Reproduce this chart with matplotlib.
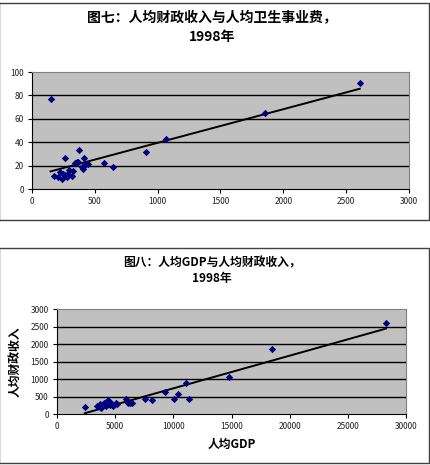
import numpy as np
import matplotlib
matplotlib.use('Agg')
import matplotlib.pyplot as plt
from matplotlib.patches import Rectangle

plt.rcParams['font.family'] = ['Noto Sans CJK SC', 'DejaVu Sans']

# chart 7: per-capita fiscal revenue vs per-capita health spending, 1998
rev7 = [148, 175, 210, 223, 236, 250, 263, 263, 275, 289, 297, 315, 330, 342,
        355, 369, 377, 395, 405, 414, 422, 448, 573, 642, 904, 1063, 1853, 2608]
health7 = [77, 11.4, 10.5, 14.8, 8.3, 12.5, 26.8, 12, 10, 12.5, 16.2, 11.1, 15.5, 22,
           23, 22.8, 33.3, 19, 17.5, 26.8, 20.5, 21, 22.5, 19, 32, 42.5, 65, 91]

# chart 8: per-capita GDP vs per-capita fiscal revenue, 1998
gdp8 = [2380, 3440, 3670, 3810, 4015, 4245, 4390, 4530, 4675, 4820, 5050, 5160,
        5965, 6110, 6310, 6480, 7540, 8200, 9320, 10040, 10410, 11130, 11330,
        14800, 18500, 28280]
rev8 = [190, 230, 285, 160, 305, 230, 400, 257, 305, 230, 324, 285,
        420, 324, 305, 324, 420, 400, 640, 420, 570, 895, 430,
        1070, 1850, 2610]

W, H = 430, 465
fig = plt.figure(figsize=(W / 100, H / 100), dpi=100)


def px_axes(x0, y0, x1, y1):
    return fig.add_axes([x0 / W, (H - y1) / H, (x1 - x0) / W, (y1 - y0) / H])


def box(y0, y1):
    fig.patches.append(Rectangle((-1 / W, (H - y1) / H), 430 / W, (y1 - y0) / H,
                                 transform=fig.transFigure, fill=False,
                                 edgecolor='#404040', lw=1.0))


def excel_style(ax, xt, yt):
    ax.set_facecolor('#c0c0c0')
    ax.set_xlim(xt[0], xt[-1])
    ax.set_ylim(yt[0], yt[-1])
    ax.set_xticks(xt)
    ax.set_yticks(yt)
    for y in yt[1:-1]:
        ax.axhline(y, color='black', lw=1.0, zorder=1)
    for s in ['top', 'right']:
        ax.spines[s].set_color('#808080')
    for s in ['left', 'bottom']:
        ax.spines[s].set_color('black')
    ax.tick_params(direction='out', length=3, width=0.8, labelsize=6,
                   labelcolor='#222222', pad=3)


def trend(ax, x, y):
    k, b = np.polyfit(x, y, 1)
    xs = np.array([min(x), max(x)])
    ax.plot(xs, k * xs + b, color='black', lw=1.4, zorder=2)


# top chart
box(3, 220)
fig.text(212 / W, 1 - 18 / H, '图七：人均财政收入与人均卫生事业费，', ha='center', va='center',
         fontsize=10, fontweight='bold')
fig.text(212 / W, 1 - 37 / H, '1998年', ha='center', va='center',
         fontsize=10, fontweight='bold')
ax1 = px_axes(32, 72, 409, 189)
excel_style(ax1, list(range(0, 3001, 500)), list(range(0, 101, 20)))
ax1.scatter(rev7, health7, marker='D', s=14, color='#000080', zorder=3, lw=0)
trend(ax1, rev7, health7)

# bottom chart
box(248, 463)
fig.text(212 / W, 1 - 263 / H, '图八：人均GDP与人均财政收入，', ha='center', va='center',
         fontsize=8.5, fontweight='bold')
fig.text(212 / W, 1 - 278 / H, '1998年', ha='center', va='center',
         fontsize=8.5, fontweight='bold')
ax2 = px_axes(57, 309, 406, 414)
excel_style(ax2, list(range(0, 30001, 5000)), list(range(0, 3001, 500)))
ax2.scatter(gdp8, rev8, marker='D', s=14, color='#000080', zorder=3, lw=0)
trend(ax2, gdp8, rev8)
ax2.set_xlabel('人均GDP', fontsize=8.5, fontweight='bold', labelpad=5)
ax2.set_ylabel('人均财政收入', fontsize=8.5, fontweight='bold', labelpad=6)

fig.savefig('out.png', dpi=100, facecolor='white')
